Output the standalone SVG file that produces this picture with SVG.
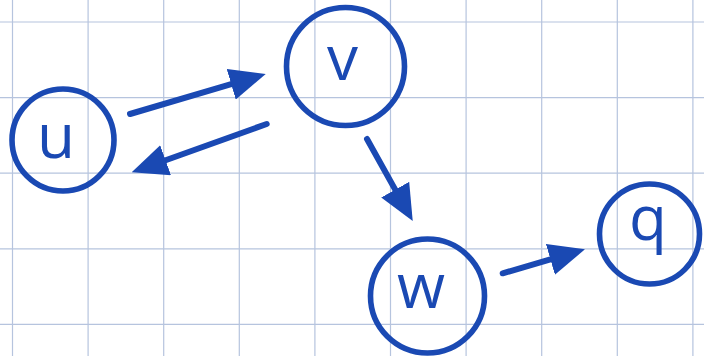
<svg xmlns="http://www.w3.org/2000/svg" width="704" height="356" viewBox="0 0 704 356">
  <style>
    .grid line { stroke: #b6c4de; stroke-width: 1.2; }
    .node circle { fill: none; stroke: #1a49b3; stroke-width: 5.6; }
    .node text { font-family: "Open Sans", "Liberation Sans", sans-serif; font-size: 62px; font-weight: 500; fill: #1a49b3; text-anchor: middle; }
    .edges line { stroke: #1a49b3; stroke-width: 6; stroke-linecap: round; }
  </style>
  <defs>
    <marker id="head" markerUnits="userSpaceOnUse" markerWidth="36" markerHeight="32" viewBox="0 0 36 32" refX="0" refY="16" orient="auto">
      <path d="M0,0 L36,16 L0,32 z" fill="#1a49b3"/>
    </marker>
  </defs>
  <rect width="704" height="356" fill="#ffffff"/>

  <!-- squared paper -->
  <g class="grid">
    <line x1="12.5" y1="0" x2="12.5" y2="356"/>
    <line x1="88.1" y1="0" x2="88.1" y2="356"/>
    <line x1="163.7" y1="0" x2="163.7" y2="356"/>
    <line x1="239.3" y1="0" x2="239.3" y2="356"/>
    <line x1="314.9" y1="0" x2="314.9" y2="356"/>
    <line x1="390.5" y1="0" x2="390.5" y2="356"/>
    <line x1="466.1" y1="0" x2="466.1" y2="356"/>
    <line x1="541.7" y1="0" x2="541.7" y2="356"/>
    <line x1="617.3" y1="0" x2="617.3" y2="356"/>
    <line x1="692.9" y1="0" x2="692.9" y2="356"/>
    <line x1="0" y1="22" x2="704" y2="22"/>
    <line x1="0" y1="97.6" x2="704" y2="97.6"/>
    <line x1="0" y1="173.2" x2="704" y2="173.2"/>
    <line x1="0" y1="248.8" x2="704" y2="248.8"/>
    <line x1="0" y1="324.4" x2="704" y2="324.4"/>
  </g>

  <!-- directed edges -->
  <g class="edges">
    <line x1="130" y1="114" x2="231.2" y2="84.2" marker-end="url(#head)"/>
    <line x1="266.7" y1="124" x2="165.6" y2="160.2" marker-end="url(#head)"/>
    <line x1="367" y1="139" x2="395.2" y2="189.6" marker-end="url(#head)"/>
    <line x1="502.7" y1="273.3" x2="550.4" y2="259.4" marker-end="url(#head)"/>
  </g>

  <g id="node-u" class="node">
    <circle cx="63" cy="140" r="51"/>
    <text x="56" y="158">u</text>
  </g>
  <g id="node-v" class="node">
    <circle cx="345.5" cy="66.5" r="59"/>
    <text x="342.5" y="80">v</text>
  </g>
  <g id="node-w" class="node">
    <circle cx="427.5" cy="296" r="57"/>
    <text x="421" y="308">w</text>
  </g>
  <g id="node-q" class="node">
    <circle cx="649.5" cy="234" r="50"/>
    <text x="648" y="240">q</text>
  </g>
</svg>
